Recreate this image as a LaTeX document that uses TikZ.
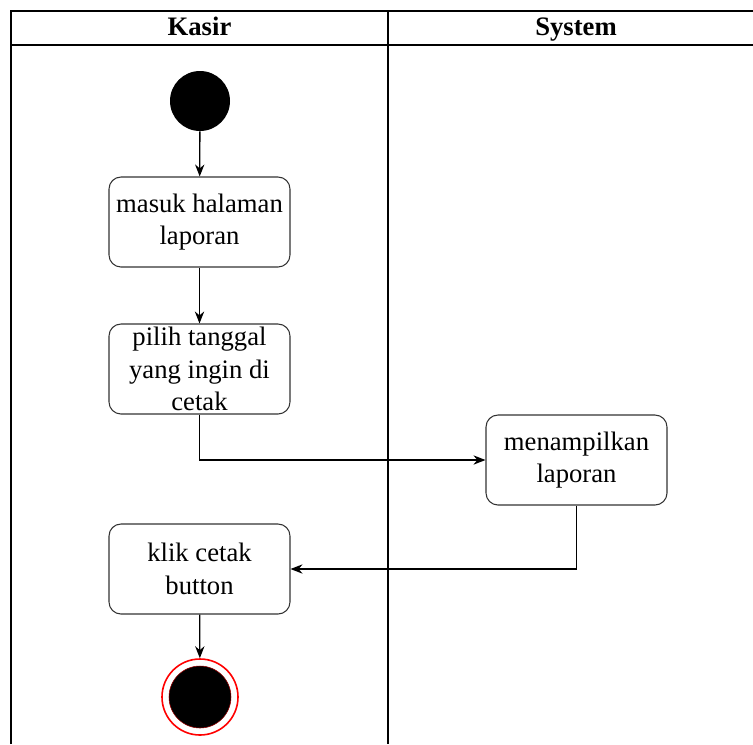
\documentclass[tikz,border=0pt]{standalone}
\usepackage{fontspec}
\setmainfont{Liberation Serif}
\usetikzlibrary{arrows.meta}

\tikzset{
  lane/.style={line width=1.1pt, black},
  lanetitle/.style={font=\fontsize{20}{24}\selectfont\bfseries, anchor=base},
  activity/.style={draw=black!80, line width=0.8pt, rounded corners=9pt, align=center,
    minimum width=135.75pt, minimum height=67.5pt, inner sep=0pt,
    font=\fontsize{20}{24.5}\selectfont},
  flow/.style={line width=1pt, -{Stealth[length=9pt, width=7pt]}}
}

\begin{document}
\begin{tikzpicture}[x=0.75pt, y=-0.75pt]
      \useasboundingbox (0,0) rectangle (753,744);

      % Swimlanes
      \draw[lane] (11,744) -- (11,11) -- (753,11);
      \draw[lane] (11,45) -- (753,45);
      \draw[lane] (388,11) -- (388,744);
      \node[lanetitle] (kasir) at (199.5,35) {Kasir};
      \node[lanetitle] (system) at (576,35) {System};

      % Start
      \node[circle, fill=black, minimum size=45pt, inner sep=0pt] (start) at (200,101) {};

      % Activities
      \node[activity] (halaman) at (199.5,222) {masuk halaman\\laporan};
      \node[activity] (tanggal) at (199.5,369) {pilih tanggal\\yang ingin di\\cetak};
      \node[activity] (tampil) at (576.5,460) {menampilkan\\laporan};
      \node[activity] (cetak) at (199.5,569) {klik cetak\\button};

      % End
      \node[circle, draw=red, line width=1.2pt, fill=white, minimum size=57pt, inner sep=0pt] (akhir) at (200,697) {};
      \node[circle, fill=black, draw=red!60!black, line width=0.4pt, minimum size=46.5pt, inner sep=0pt] (akhirdot) at (200,697) {};

      % Flows
      \draw[flow] (start) -- (halaman);
      \draw[flow] (halaman) -- (tanggal);
      \draw[flow] (tanggal.south) |- (tampil.west);
      \draw[flow] (tampil.south) |- (cetak.east);
      \draw[flow] (cetak) -- (akhir);
\end{tikzpicture}
\end{document}
